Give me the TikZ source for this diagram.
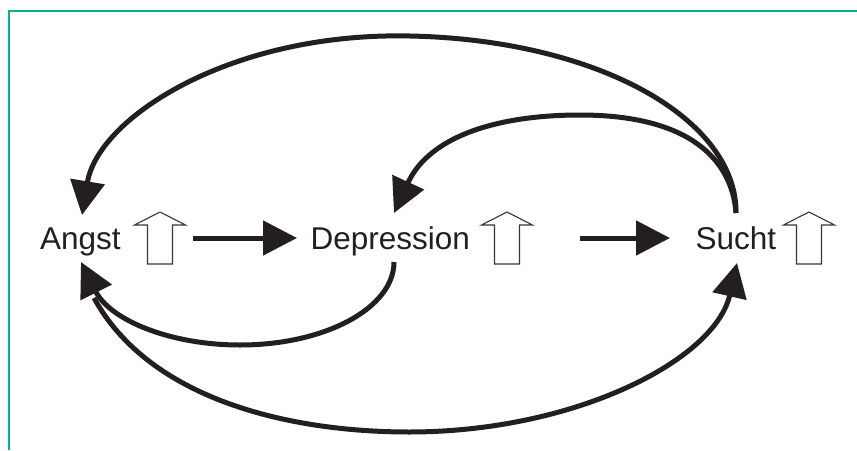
\documentclass[tikz,border=0pt]{standalone}
\usepackage{fontspec}
\setmainfont{Liberation Sans}
\usetikzlibrary{arrows.meta}
\definecolor{ink}{HTML}{231F20}
\definecolor{framegreen}{RGB}{0,178,137}
\begin{document}
\begin{tikzpicture}[x=1pt,y=-1pt,
  frameline/.style={draw=framegreen,line width=2pt},
  lbl/.style={inner sep=0pt,anchor=base west,text=ink,font=\fontsize{31.5}{38}\selectfont},
  conn/.style={draw=ink,line width=5pt,-{Triangle[length=34pt,width=34pt]}},
  openup/.pic={\draw[ink!90,line width=1.1pt,fill=white,line join=miter]
     (0,0) -- (25.5,13) -- (12.5,13) -- (12.5,52) -- (-12.5,52) -- (-12.5,13) -- (-25.5,13) -- cycle;}
]
\useasboundingbox (0,0) rectangle (857,450);
\fill[white] (0,0) rectangle (857,450);
\draw[frameline] (9,450) -- (9,11) -- (857,11);

% labels
\node[lbl] (angst) at (40,249) {Angst};
\node[lbl] (depr) at (310.5,249) {Depression};
\node[lbl] (sucht) at (695.5,249) {Sucht};

% open up arrows
\pic (upA) at (160,212) {openup};
\pic (upD) at (507,212) {openup};
\pic (upS) at (809,212) {openup};

% connector end points
\coordinate (aTop) at (82,215);
\coordinate (aBot) at (81,262);
\coordinate (aBotStart) at (94,298);
\coordinate (dTop) at (394,213);
\coordinate (dBot) at (394,262);
\coordinate (sTop) at (736,213);
\coordinate (sBot) at (737,263);
\coordinate (aRight) at (193,238);
\coordinate (dLeft) at (297,238);
\coordinate (dRight) at (580,238);
\coordinate (sLeft) at (670,238);

% straight arrows
\draw[conn] (aRight) -- (dLeft);
\draw[conn] (dRight) -- (sLeft);

% outer top: Sucht -> Angst
\draw[conn] (sTop) .. controls (737,120) and (600,40) .. (410,36)
  .. controls (230,32) and (98,118) .. (aTop);
% inner top: Sucht -> Depression
\draw[conn] (sTop) .. controls (732,160) and (690,115) .. (580,115)
  .. controls (500,115) and (430,135) .. (dTop);
% inner bottom: Depression -> Angst
\draw[conn] (dBot) .. controls (394,308) and (325,345) .. (240,345)
  .. controls (170,345) and (110,320) .. (aBot);
% outer bottom: Angst -> Sucht
\draw[conn] (aBotStart) .. controls (150,400) and (290,432) .. (409,432)
  .. controls (575,432) and (715,360) .. (sBot);
\end{tikzpicture}
\end{document}
